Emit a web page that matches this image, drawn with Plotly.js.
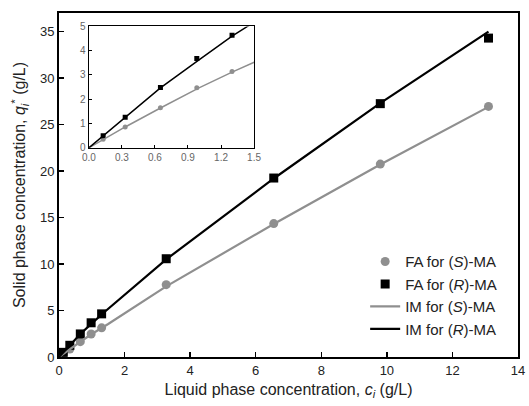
<!DOCTYPE html>
<html><head><meta charset="utf-8">
<script src="https://cdn.plot.ly/plotly-3.0.1.min.js"></script>
<style>html,body{margin:0;padding:0;background:#fff}#c{width:529px;height:406px}</style>
</head><body><div id="c"></div>
<script>
// Experimental (frontal analysis) data
const cS = [0.13, 0.33, 0.65, 0.98, 1.30, 3.27, 6.55, 9.80, 13.10];
const qS = [0.35, 0.86, 1.65, 2.47, 3.14, 7.78, 14.35, 20.75, 26.95];
const cR = [0.13, 0.33, 0.65, 0.98, 1.30, 3.27, 6.55, 9.80, 13.10];
const qR = [0.50, 1.26, 2.48, 3.68, 4.64, 10.57, 19.25, 27.25, 34.3];
// Isotherm model curves
const cLineS = [0, 0.33, 0.65, 1.0, 1.3, 1.5, 3.27, 6.55, 9.8, 13.1];
const qLineS = [0, 0.86, 1.64, 2.47, 3.12, 3.55, 7.6, 14.3, 20.7, 26.9];
const cLineR = [0, 0.13, 0.33, 0.65, 1.0, 1.3, 1.44, 3.27, 6.55, 9.8, 13.1];
const qLineR = [0, 0.50, 1.27, 2.47, 3.62, 4.6, 5.0, 10.5, 19.2, 27.3, 35.0];

const gray = '#8f8f8f';
const font = 'Liberation Sans, Arial, sans-serif';

const traces = [
  {x: cS, y: qS, mode: 'markers', name: 'FA for (<i>S</i>)-MA', marker: {symbol: 'circle', color: gray, size: 9}},
  {x: cR, y: qR, mode: 'markers', name: 'FA for (<i>R</i>)-MA', marker: {symbol: 'square', color: '#000', size: 9}},
  {x: cLineS, y: qLineS, mode: 'lines', name: 'IM for (<i>S</i>)-MA', line: {color: gray, width: 2.2}},
  {x: cLineR, y: qLineR, mode: 'lines', name: 'IM for (<i>R</i>)-MA', line: {color: '#000', width: 2.2}},
  {x: cS, y: qS, mode: 'markers', xaxis: 'x2', yaxis: 'y2', showlegend: false, marker: {symbol: 'circle', color: gray, size: 5}},
  {x: cR, y: qR, mode: 'markers', xaxis: 'x2', yaxis: 'y2', showlegend: false, marker: {symbol: 'square', color: '#000', size: 5}},
  {x: cLineS, y: qLineS, mode: 'lines', xaxis: 'x2', yaxis: 'y2', showlegend: false, line: {color: gray, width: 1.5}},
  {x: cLineR, y: qLineR, mode: 'lines', xaxis: 'x2', yaxis: 'y2', showlegend: false, line: {color: '#000', width: 1.5}}
];

const layout = {
  width: 529, height: 406,
  margin: {l: 59, r: 11, t: 13, b: 49},
  paper_bgcolor: '#fff', plot_bgcolor: '#fff',
  font: {family: font, color: '#222', size: 13},
  showlegend: true,
  legend: {x: 0.667, y: 0.325, xanchor: 'left', yanchor: 'top', bgcolor: 'rgba(0,0,0,0)', font: {size: 15, color: '#222'}, tracegroupgap: 0},
  xaxis: {range: [0, 14], tickvals: [0,2,4,6,8,10,12,14], ticks: 'inside', ticklen: 5, tickwidth: 1.5, tickcolor: '#000',
    showline: true, linecolor: '#000', linewidth: 2, mirror: true, showgrid: false, zeroline: false,
    title: {text: 'Liquid phase concentration, <i>c</i><sub><i>i</i></sub> (g/L)', font: {size: 16}, standoff: 7}},
  yaxis: {range: [0, 37], tickvals: [0,5,10,15,20,25,30,35], ticks: 'inside', ticklen: 5, tickwidth: 1.5, tickcolor: '#000',
    showline: true, linecolor: '#000', linewidth: 2, mirror: true, showgrid: false, zeroline: false,
    title: {text: 'Solid phase concentration, <i>q</i><sub><i>i</i></sub><sup>*</sup> (g/L)', font: {size: 16}, standoff: 10}},
  xaxis2: {domain: [0.065, 0.425], anchor: 'y2', range: [0, 1.5], tickvals: [0,0.3,0.6,0.9,1.2,1.5], ticktext: ['0.0','0.3','0.6','0.9','1.2','1.5'],
    ticks: 'inside', ticklen: 3, tickwidth: 1, tickcolor: '#000', showline: true, linecolor: '#000', linewidth: 1.2, mirror: true,
    showgrid: false, zeroline: false, tickfont: {size: 10, color: '#666'}},
  yaxis2: {domain: [0.608, 0.961], anchor: 'x2', range: [0, 5], tickvals: [0,1,2,3,4,5],
    ticks: 'inside', ticklen: 3, tickwidth: 1, tickcolor: '#000', showline: true, linecolor: '#000', linewidth: 1.2, mirror: true,
    showgrid: false, zeroline: false, tickfont: {size: 10, color: '#666'}}
};

Plotly.newPlot('c', traces, layout, {displayModeBar: false, staticPlot: true});
</script></body></html>
